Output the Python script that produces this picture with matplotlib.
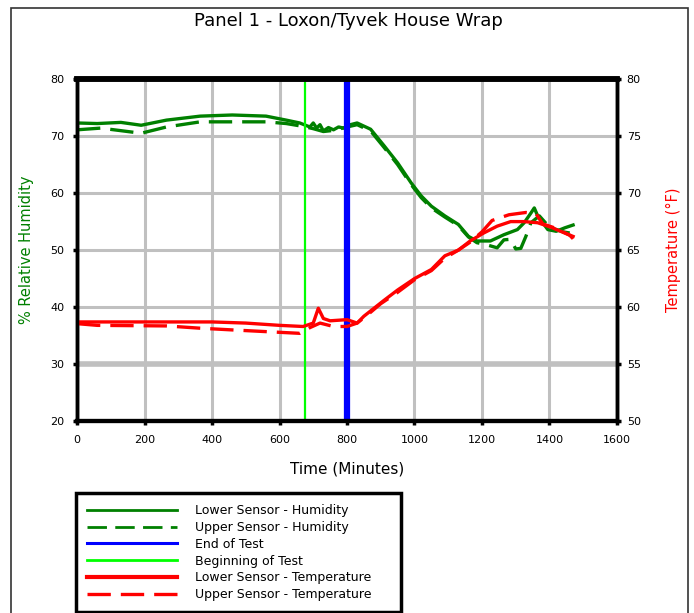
import numpy as np
import matplotlib.pyplot as plt
from matplotlib.patches import Rectangle

plt.rcParams['font.family'] = ['DejaVu Sans']

# Lower sensor humidity (% RH)
rh_lower_t = [0, 60, 130, 190, 265, 365, 460, 560, 620, 660, 690, 700, 710, 720, 730, 745,
              760, 775, 790, 810, 830, 870, 910, 950, 990, 1020, 1050, 1090, 1130, 1160,
              1185, 1225, 1265, 1305, 1325, 1345, 1355, 1365, 1395, 1420, 1445, 1470]
rh_lower = [72.3, 72.2, 72.4, 71.9, 72.8, 73.5, 73.7, 73.5, 72.8, 72.3, 71.6, 72.3, 71.4,
            72.0, 70.9, 71.5, 71.1, 71.6, 71.4, 72.0, 72.3, 71.2, 68.3, 65.3, 61.8, 59.5,
            57.7, 56.0, 54.5, 52.4, 51.6, 51.6, 52.7, 53.6, 54.8, 56.5, 57.4, 56.0, 53.6,
            53.3, 53.9, 54.4]

# Upper sensor humidity (% RH)
rh_upper_t = [0, 70, 190, 265, 365, 460, 560, 620, 670, 700, 730, 760, 800, 830, 870, 910,
              950, 990, 1020, 1050, 1090, 1130, 1160, 1185, 1210, 1245, 1265, 1285, 1300,
              1315, 1330, 1345, 1370, 1400, 1440, 1460]
rh_upper = [71.1, 71.4, 70.5, 71.6, 72.5, 72.5, 72.5, 72.2, 71.7, 71.3, 70.8, 71.0, 71.6,
            72.0, 70.9, 68.0, 65.0, 61.5, 59.2, 57.4, 55.8, 54.3, 52.3, 51.3, 51.0, 50.4,
            51.8, 51.9, 50.2, 50.3, 52.4, 54.8, 56.0, 54.0, 53.2, 53.0]

# Lower sensor temperature (F)
tp_lower_t = [0, 100, 250, 400, 500, 600, 670, 700, 715, 730, 750, 800, 830, 850, 880, 910,
              950, 1000, 1050, 1090, 1130, 1165, 1205, 1245, 1285, 1325, 1365, 1405, 1445, 1470]
tp_lower = [58.7, 58.7, 58.7, 58.7, 58.6, 58.4, 58.3, 58.6, 59.9, 59.0, 58.8, 58.9, 58.6,
            59.2, 59.9, 60.6, 61.5, 62.5, 63.3, 64.5, 65.0, 65.8, 66.5, 67.1, 67.5, 67.5,
            67.4, 67.0, 66.5, 66.2]

# Upper sensor temperature (F)
tp_upper_t = [0, 60, 265, 365, 460, 560, 660, 690, 720, 760, 800, 830, 860, 900, 950, 1000,
              1050, 1090, 1130, 1165, 1200, 1230, 1280, 1330, 1360, 1380, 1420, 1460, 1470]
tp_upper = [58.55, 58.4, 58.35, 58.15, 58.0, 57.85, 57.7, 58.2, 58.6, 58.3, 58.3, 58.6,
            59.3, 60.3, 61.3, 62.4, 63.2, 64.3, 65.0, 65.7, 66.6, 67.6, 68.1, 68.3, 68.2,
            67.3, 66.9, 66.3, 66.0]

begin_test = 675
end_test = 800

green = '#008000'
red = '#ff0000'
dash = (7, 3)

fig = plt.figure(figsize=(6.94, 6.13), dpi=100)
fig.patches.append(Rectangle((11 / 694, -0.01), 677 / 694, 1 - 8 / 613 + 0.01,
                             transform=fig.transFigure, fill=False,
                             edgecolor='#333333', linewidth=1.2))

ax = fig.add_axes([0.111, 0.313, 0.778, 0.558])
ax2 = ax.twinx()

ax.set_xlim(0, 1600)
ax.set_ylim(20, 80)
ax2.set_ylim(50, 80)
ax.set_xticks(np.arange(0, 1601, 200))
ax.set_yticks(np.arange(20, 81, 10))
ax2.set_yticks(np.arange(50, 81, 5))

ax.grid(True, color='#c0c0c0', linewidth=2.2)
ax.axhline(30, color='#c0c0c0', linewidth=4, zorder=0.5)
ax.set_axisbelow(True)

l1, = ax.plot(rh_lower_t, rh_lower, color=green, lw=2.4, label='Lower Sensor - Humidity')
l2, = ax.plot(rh_upper_t, rh_upper, color=green, lw=2.4, dashes=dash,
              label='Upper Sensor - Humidity')
l3 = ax.axvline(end_test, color='#0000ff', lw=4.5, label='End of Test')
l4 = ax.axvline(begin_test, color='#00ff00', lw=1.6, label='Beginning of Test')
l5, = ax2.plot(tp_lower_t, tp_lower, color=red, lw=2.4, label='Lower Sensor - Temperature')
l6, = ax2.plot(tp_upper_t, tp_upper, color=red, lw=2.4, dashes=dash,
               label='Upper Sensor - Temperature')

for a in (ax, ax2):
    for s in a.spines.values():
        s.set_linewidth(2.5)
        s.set_color('black')
    a.spines['top'].set_linewidth(4)
    a.spines['bottom'].set_linewidth(3)
    a.tick_params(direction='out', length=3, width=2.5, labelsize=8)
ax.tick_params(axis='x', pad=7)
ax.tick_params(axis='y', pad=6)
ax2.tick_params(axis='y', pad=4)

ax.set_ylabel('% Relative Humidity', color=green, fontsize=10.5, labelpad=12)
ax2.set_ylabel('Temperature (\u00b0F)', color=red, fontsize=10.5, labelpad=18)
ax.set_xlabel('Time (Minutes)', fontsize=11, labelpad=12)
fig.text(0.5015, 0.966, 'Panel 1 - Loxon/Tyvek House Wrap', ha='center', va='center',
         fontsize=13)

leg = fig.legend(handles=[l1, l2, l3, l4, l5, l6], loc='upper left',
                 bbox_to_anchor=(76 / 694, 1 - 493 / 613, 325 / 694, 0.0),
                 mode='expand', fontsize=9, handlelength=7.2, handletextpad=1.4,
                 labelspacing=0.3, borderpad=0.9, borderaxespad=0,
                 fancybox=False, framealpha=1)
leg.get_frame().set_edgecolor('black')
leg.get_frame().set_linewidth(2.5)
for h, w in zip(leg.get_lines(), [2.0, 2.0, 2.2, 2.0, 3.0, 2.4]):
    h.set_linewidth(w)

fig.savefig('out.png', dpi=100)
